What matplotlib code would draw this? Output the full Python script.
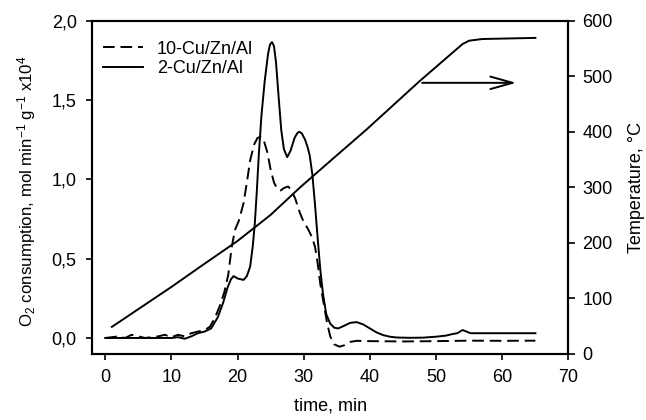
import matplotlib
matplotlib.use('Agg')
import matplotlib.pyplot as plt

plt.rcParams['font.family'] = ['Liberation Sans', 'DejaVu Sans']
plt.rcParams['mathtext.fontset'] = 'custom'
plt.rcParams['mathtext.rm'] = 'Liberation Sans'
plt.rcParams['mathtext.it'] = 'Liberation Sans:italic'

# 2-Cu/Zn/Al (solid line), time in min, O2 consumption x10^4
t_2cu = [0, 2, 4, 6, 8, 10, 11, 12, 13, 14, 15, 16, 17, 17.8, 18.5, 19.0, 19.4,
         20.0, 20.9, 21.4, 21.9, 22.3, 22.6, 22.9, 23.2, 23.6, 24.1, 24.6, 24.9,
         25.2, 25.5, 25.8, 26.2, 26.6, 27.0, 27.5, 28.0, 28.6, 29.0, 29.3, 29.7,
         30.2, 30.6, 30.9, 31.3, 31.7, 32.1, 32.5, 32.9, 33.4, 34.0, 34.6, 35.2,
         36.0, 37.0, 38.0, 39.0, 40.0, 41.0, 42.0, 43.0, 44.0, 46.0, 48.0, 50.0,
         51.5, 52.5, 53.2, 54.0, 54.6, 55.2, 57.0, 65.0]
o2_2cu = [0.0, 0.0, 0.0, 0.0, 0.0, 0.0, 0.005, -0.005, 0.01, 0.03, 0.04, 0.06,
          0.13, 0.22, 0.32, 0.37, 0.39, 0.375, 0.366, 0.39, 0.45, 0.58, 0.72,
          0.92, 1.15, 1.40, 1.62, 1.79, 1.85, 1.865, 1.84, 1.74, 1.52, 1.31,
          1.19, 1.14, 1.18, 1.26, 1.29, 1.30, 1.29, 1.25, 1.20, 1.15, 1.03,
          0.84, 0.63, 0.43, 0.28, 0.15, 0.09, 0.065, 0.06, 0.075, 0.095, 0.10,
          0.085, 0.06, 0.035, 0.018, 0.008, 0.003, 0.001, 0.002, 0.008, 0.015,
          0.025, 0.03, 0.05, 0.04, 0.03, 0.03, 0.03]

# 10-Cu/Zn/Al (dashed line)
t_10cu = [0, 1, 2, 3, 4, 5, 6, 7, 8, 9, 10, 11, 12, 13, 14, 15, 15.8, 16.5,
          17.3, 18.0, 18.6, 19.1, 19.6, 20.2, 20.9, 21.4, 21.9, 22.5, 23.0,
          23.5, 24.0, 24.5, 25.0, 25.5, 26.0, 26.5, 27.0, 27.6, 28.0, 28.7,
          29.4, 30.0, 30.6, 31.2, 31.7, 32.1, 32.5, 33.0, 33.5, 34.0, 34.6,
          35.4, 36.2, 37.0, 38.0, 40.0, 45.0, 50.0, 55.0, 60.0, 65.0]
o2_10cu = [0.0, 0.005, 0.01, 0.0, 0.02, 0.01, 0.0, 0.005, 0.01, 0.02, 0.005,
           0.02, 0.01, 0.03, 0.04, 0.05, 0.07, 0.12, 0.2, 0.29, 0.40, 0.57,
           0.68, 0.74, 0.85, 0.98, 1.12, 1.22, 1.26, 1.27, 1.24, 1.17, 1.06,
           0.98, 0.94, 0.93, 0.945, 0.955, 0.94, 0.88, 0.79, 0.73, 0.69, 0.64,
           0.575, 0.47, 0.34, 0.22, 0.1, 0.01, -0.04, -0.055, -0.045, -0.025,
           -0.018, -0.02, -0.022, -0.02, -0.017, -0.018, -0.017]

# temperature profile (right axis)
t_temp = [1, 5, 10, 14.3, 20, 25, 29.4, 33.9, 39.5, 47.5, 54.0, 55.0, 57, 65]
temp = [48, 80, 120, 156, 203, 250, 299, 346, 404, 491, 558, 564, 567, 569]

x_ticks = [0, 10, 20, 30, 40, 50, 60, 70]
y_ticks = [0.0, 0.5, 1.0, 1.5, 2.0]
y_ticklabels = ['0,0', '0,5', '1,0', '1,5', '2,0']
temp_ticks = [0, 100, 200, 300, 400, 500, 600]

fs = 13

fig = plt.figure(figsize=(6.46, 4.2), dpi=100)
ax = fig.add_axes([0.1424, 0.1583, 0.7376, 0.7924])
ax2 = ax.twinx()

ax.plot(t_10cu, o2_10cu, color='black', lw=1.4, dashes=(6, 3), label='10-Cu/Zn/Al')
ax.plot(t_2cu, o2_2cu, color='black', lw=1.4, label='2-Cu/Zn/Al')
ax2.plot(t_temp, temp, color='black', lw=1.4)

# arrow pointing to the temperature axis
ax2.annotate('', xy=(62.1, 488), xytext=(47.9, 488),
             arrowprops=dict(arrowstyle='->,head_length=1.6,head_width=0.45',
                             color='black', lw=1.4, shrinkA=0, shrinkB=0,
                             mutation_scale=10))

ax.set_xlim(-2, 70)
ax.set_ylim(-0.098, 2.0)
ax2.set_ylim(0, 600)

ax.set_xticks(x_ticks)
ax.set_xticklabels([str(v) for v in x_ticks], fontsize=fs)
ax.set_yticks(y_ticks)
ax.set_yticklabels(y_ticklabels, fontsize=fs)
ax2.set_yticks(temp_ticks)
ax2.set_yticklabels([str(v) for v in temp_ticks], fontsize=fs)

ax.tick_params(direction='out', length=4, width=1.2, pad=7)
ax2.tick_params(direction='out', length=5, width=1.2, pad=5)
for a in (ax, ax2):
    for s in a.spines.values():
        s.set_linewidth(1.5)

ax.set_xlabel('time, min', fontsize=fs)
ax.set_ylabel('O$_2$ consumption, mol min$^{-1}$ g$^{-1}$ x10$^4$', fontsize=12.2)
ax2.set_ylabel('Temperature, \u00b0C', fontsize=fs)
ax.xaxis.set_label_coords(0.5, -0.131)
ax.yaxis.set_label_coords(-0.113, 0.489)
ax2.yaxis.set_label_coords(1.125, 0.5)

ax.legend(loc='upper left', bbox_to_anchor=(0.0, 0.973), frameon=False,
          fontsize=fs, handlelength=2.2, handletextpad=0.8, labelspacing=0.15,
          borderaxespad=0.2)

fig.savefig('out.png', dpi=100)
